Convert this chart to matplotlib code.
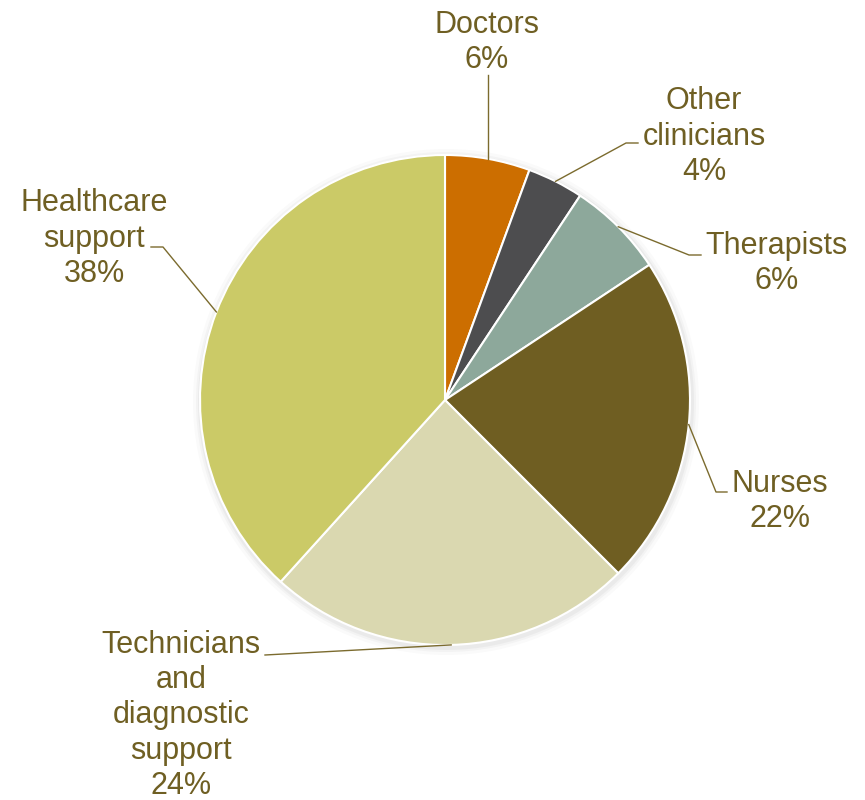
import numpy as np
import matplotlib.pyplot as plt
from matplotlib.patches import Circle

plt.rcParams['font.family'] = ['Liberation Sans', 'DejaVu Sans']

labels = ['Doctors', 'Other\nclinicians', 'Therapists', 'Nurses',
          'Technicians\nand\ndiagnostic\nsupport', 'Healthcare\nsupport']
shares = [5.6, 3.7, 6.4, 21.8, 24.2, 38.3]
pct_text = ['6%', '4%', '6%', '22%', '24%', '38%']
colors = ['#CC6E00', '#4D4D4F', '#8DA89B', '#6F5E22', '#DAD8B0', '#CBCA67']

txt_col = '#6F5F23'
line_col = '#7B6B2E'

fig = plt.figure(figsize=(8.65, 8), dpi=100)
ax = fig.add_axes([0, 0, 1, 1])

cx, cy, r = 445, 400, 245

# soft shadow
for k, a in zip([8, 5, 3], [0.04, 0.06, 0.08]):
    ax.add_patch(Circle((cx + 1, cy - 2), r + k, color='#888888', alpha=a, lw=0, zorder=0))

wedges, _ = ax.pie(shares, colors=colors, startangle=90, counterclock=False,
                   center=(cx, cy), radius=r, frame=True,
                   wedgeprops=dict(edgecolor='white', linewidth=1.5))
ax.set_xlim(0, 865)
ax.set_ylim(0, 800)
ax.set_aspect('equal')
ax.axis('off')

# label anchor (x, last-line baseline in px from top), elbow x, text-side end x
layout = [
    (487, 68, None, None),
    (704, 180, 626, 638),
    (777, 289, 689, 701),
    (780, 527, 716, 727),
    (181, 794, None, 265),
    (94, 282, 163, 151),
]
line_y = [75, 143, 255, 492, 655, 247]

for w, lab, pt, (tx, ty, ex, end), ly in zip(wedges, labels, pct_text, layout, line_y):
    mid = np.deg2rad((w.theta1 + w.theta2) / 2)
    px, py = cx + r * np.cos(mid), cy + r * np.sin(mid)
    ax.text(tx, 800 - ty, lab + '\n' + pt, ha='center', va='baseline',
            fontsize=22, color=txt_col, linespacing=1.23, zorder=5)
    if end is None:
        xs, ys = [px, px], [py, 800 - ly]
    elif ex is None:
        xs, ys = [px, end], [py, 800 - ly]
    else:
        xs, ys = [px, ex, end], [py, 800 - ly, 800 - ly]
    ax.plot(xs, ys, color=line_col, lw=1, zorder=4)

fig.savefig('out.png', dpi=100, facecolor='white')
